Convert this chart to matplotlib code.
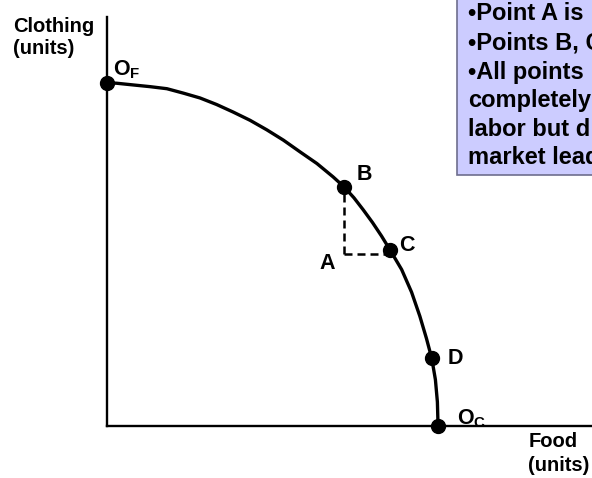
import matplotlib
matplotlib.use('Agg')
import matplotlib.pyplot as plt
from matplotlib.patches import Rectangle

plt.rcParams['font.family'] = ['Liberation Sans', 'DejaVu Sans']
plt.rcParams['font.weight'] = 'bold'
plt.rcParams['mathtext.fontset'] = 'custom'
plt.rcParams['mathtext.rm'] = 'Liberation Sans:bold'
plt.rcParams['mathtext.bf'] = 'Liberation Sans:bold'
plt.rcParams['mathtext.it'] = 'Liberation Sans:bold'

# --- datos ---
curve_food = [0, 2.9, 7.9, 13.0, 18.1, 23.1, 28.1, 33.1, 38.1, 43.2, 48.3, 53.3,
              58.3, 63.4, 68.3, 71.6, 74.6, 77.4, 80.2, 82.9, 85.5, 89.0, 92.0,
              94.5, 96.5, 98.1, 99.2, 99.8, 100]
curve_clothing = [100, 99.9, 99.4, 98.9, 98.3, 97.0, 95.6, 93.7, 91.5, 89.1, 86.3, 83.3,
                  79.9, 76.5, 72.6, 69.7, 66.5, 63.0, 59.3, 55.4, 51.3, 45.6, 39.0,
                  32.0, 25.5, 19.7, 13.5, 7.0, 0]

point_labels = [r'$\mathbf{O_F}$', 'B', 'C', 'D', r'$\mathbf{O_C}$']
point_food = [0, 71.6, 85.5, 98.1, 100]
point_clothing = [100, 69.7, 51.3, 19.7, 0]

a_food = 71.6
a_clothing = 50.1

box_lines = ['\u2022Point A is', '\u2022Points B, C', '\u2022All points',
             'completely', 'labor but d', 'market lead']

W, H = 592, 478
fig = plt.figure(figsize=(W / 100, H / 100), dpi=100)
ax = fig.add_axes([107 / W, 52 / H, 485 / W, 409 / H])

# frontera
ax.plot(curve_food, curve_clothing, color='black', lw=2.4, solid_joinstyle='round',
        solid_capstyle='round', zorder=3)

# A y líneas discontinuas
ax.plot([a_food, a_food], [a_clothing, point_clothing[1]], color='black', lw=1.8,
        dashes=(3.2, 2.0), zorder=2)
ax.plot([a_food, point_food[2]], [a_clothing, a_clothing], color='black', lw=1.8,
        dashes=(3.2, 2.0), zorder=2)

ax.plot(point_food, point_clothing, 'o', color='black', ms=10, clip_on=False, zorder=4)

# etiquetas de puntos (desplazamientos en puntos)
offsets = [(4.0, 5.6), (15.0, 9.0), (12.0, 3.0), (17.0, 0), (13.5, 1.2)]
vas = ['baseline', 'center', 'center', 'center', 'baseline']
for lab, fx, cy, off, va in zip(point_labels, point_food, point_clothing, offsets, vas):
    ax.annotate(lab, (fx, cy), xytext=off, textcoords='offset points',
                ha='left' if va == 'baseline' else 'center', va=va,
                fontsize=15.5, fontweight='bold')
ax.annotate('A', (a_food, a_clothing), xytext=(-12, -6.5), textcoords='offset points',
            ha='center', va='center', fontsize=15.5, fontweight='bold')

ax.set_xlim(0, 146.5)
ax.set_ylim(0, 119.2)
for s in ['top', 'right']:
    ax.spines[s].set_visible(False)
for s in ['left', 'bottom']:
    ax.spines[s].set_linewidth(1.7)
ax.set_xticks([])
ax.set_yticks([])
ax.patch.set_alpha(0)

# títulos de ejes
fig.text(13 / W, 1 - 32 / H, 'Clothing', fontsize=14.5, fontweight='bold', va='baseline')
fig.text(13 / W, 1 - 54 / H, '(units)', fontsize=14.5, fontweight='bold', va='baseline')
fig.text(529 / W, 1 - 447 / H, 'Food', fontsize=14.5, fontweight='bold', va='baseline')
fig.text(528 / W, 1 - 471 / H, '(units)', fontsize=14.5, fontweight='bold', va='baseline')

# cuadro de texto (cortado por el borde derecho, como en el original)
box = Rectangle((457 / W, 1 - 175 / H), 0.5, 0.6, transform=fig.transFigure,
                facecolor='#ccccff', edgecolor='#6e6e8e', lw=1.2, zorder=0)
fig.patches.append(box)
line_y = [14, 43, 72, 101, 129, 157]
for txt, yy in zip(box_lines, line_y):
    fig.text(468 / W, 1 - yy / H, txt, fontsize=17, fontweight='bold', va='center')

fig.savefig('out.png', dpi=100)
